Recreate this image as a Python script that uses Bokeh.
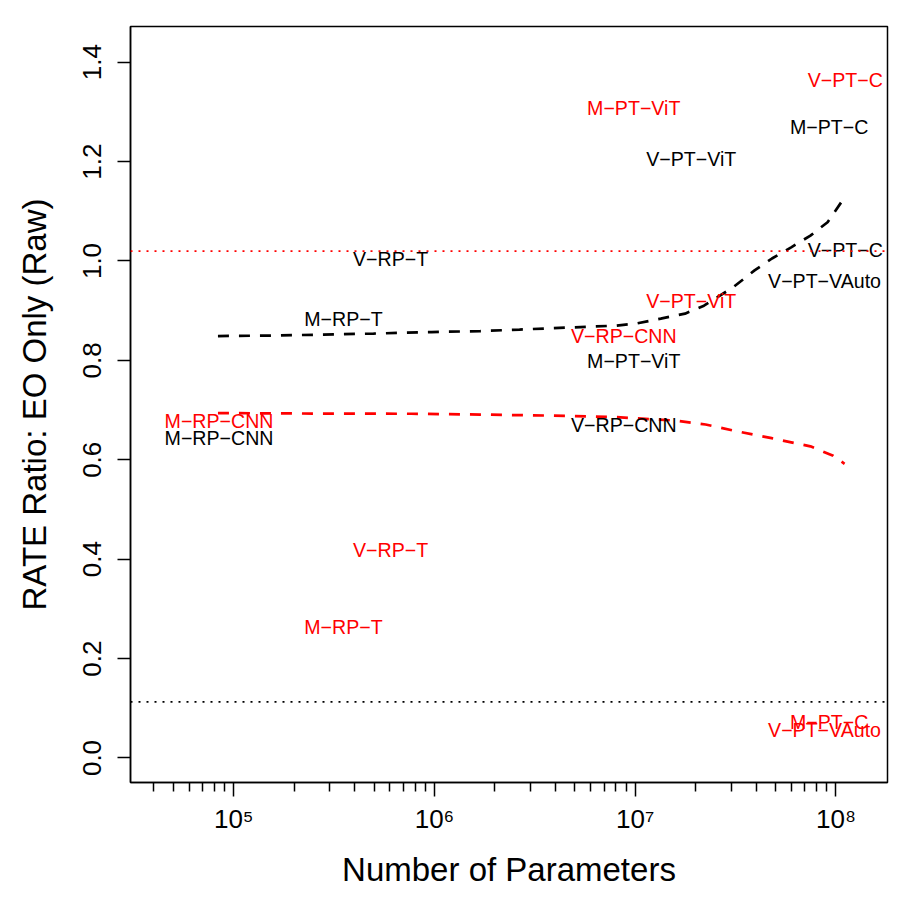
from bokeh.plotting import figure
from bokeh.models import Range1d, FixedTicker, Span, ColumnDataSource, PrintfTickFormatter
from bokeh.core.properties import value
from bokeh.embed import file_html
from bokeh.resources import INLINE

# ---------------- data ----------------
models = ["M-RP-CNN", "M-RP-T", "V-RP-T", "V-RP-CNN", "M-PT-ViT",
          "V-PT-ViT", "V-PT-VAuto", "M-PT-C", "V-PT-C"]
n_params = [8.44e4, 3.52e5, 6.04e5, 8.77e6, 9.83e6, 1.90e7, 8.77e7, 9.24e7, 1.113e8]
ratio_black = [0.643, 0.884, 1.003, 0.671, 0.798, 1.206, 0.959, 1.269, 1.023]
ratio_red = [0.679, 0.264, 0.4195, 0.850, 1.308, 0.9205, 0.0573, 0.072, 1.365]

ref_black = 0.113
ref_red = 1.02

fit_black_x = [8.34e4, 1.63e5, 4.97e5, 9.66e5, 1.69e6, 2.65e6, 4.60e6, 8.07e6,
               1.007e7, 1.34e7, 1.77e7, 2.20e7, 3.07e7, 3.93e7, 4.80e7, 6.01e7,
               7.46e7, 9.08e7, 1.07e8]
fit_black_y = [0.849, 0.850, 0.854, 0.857, 0.859, 0.862, 0.866, 0.870,
               0.874, 0.884, 0.894, 0.910, 0.947, 0.981, 1.005, 1.028,
               1.051, 1.078, 1.120]

fit_red_x = [8.34e4, 2.5e5, 7.67e5, 1.69e6, 3.66e6, 8.07e6, 1.57e7, 2.24e7,
             3.06e7, 4.78e7, 7.46e7, 9.62e7, 1.104e8]
fit_red_y = [0.694, 0.693, 0.6926, 0.691, 0.689, 0.6857, 0.679, 0.671,
             0.659, 0.6435, 0.627, 0.6087, 0.592]

x_decades = [1e5, 1e6, 1e7, 1e8]
x_tick_labels = ["10\u2075", "10\u2076", "10\u2077", "10\u2078"]
x_minor = [m * 10.0 ** k for k in (4, 5, 6, 7) for m in range(2, 10) if m * 10.0 ** k >= 4e4]
y_ticks = [0.0, 0.2, 0.4, 0.6, 0.8, 1.0, 1.2, 1.4]

# ---------------- figure ----------------
FONT = "Liberation Sans"
p = figure(width=913, height=913, x_axis_type="log",
           x_range=Range1d(30584, 1.806e8), y_range=Range1d(-0.0493, 1.4718),
           output_backend="svg", toolbar_location=None,
           min_border_left=130, min_border_right=26, min_border_top=26, min_border_bottom=131)
p.grid.visible = False
p.outline_line_color = "black"
p.outline_line_width = 1.5
p.background_fill_color = "white"
p.border_fill_color = "white"

# x axis
xa = p.xaxis[0]
xa.ticker = FixedTicker(ticks=x_decades, minor_ticks=x_minor)
xa.major_label_overrides = {int(t): s for t, s in zip(x_decades, x_tick_labels)}
xa.major_label_text_font = FONT
xa.major_label_text_font_size = "26px"
xa.major_label_text_color = "black"
xa.major_label_standoff = 7
xa.major_tick_out = 14
xa.major_tick_in = 0
xa.minor_tick_out = 9
xa.minor_tick_in = 0
xa.major_tick_line_width = 1.5
xa.minor_tick_line_width = 1.5
xa.axis_line_width = 1.5
xa.axis_label = "Number of Parameters"
xa.axis_label_text_font = FONT
xa.axis_label_text_font_size = "33px"
xa.axis_label_text_font_style = "normal"
xa.axis_label_text_color = "black"
xa.axis_label_standoff = 14

# y axis
ya = p.yaxis[0]
ya.ticker = FixedTicker(ticks=y_ticks)
ya.formatter = PrintfTickFormatter(format="%.1f")
ya.major_tick_out = 13
ya.major_tick_in = 0
ya.minor_tick_line_color = None
ya.major_tick_line_width = 1.5
ya.axis_line_width = 1.5
ya.major_label_orientation = "vertical"
ya.major_label_text_font = FONT
ya.major_label_text_font_size = "26px"
ya.major_label_text_color = "black"
ya.major_label_standoff = 16
ya.axis_label = "RATE Ratio: EO Only (Raw)"
ya.axis_label_text_font = FONT
ya.axis_label_text_font_size = "33px"
ya.axis_label_text_font_style = "normal"
ya.axis_label_text_color = "black"
ya.axis_label_standoff = 28

# reference lines
p.add_layout(Span(location=ref_red, dimension="width", line_color="red",
                  line_dash="2 6", line_width=1.8))
p.add_layout(Span(location=ref_black, dimension="width", line_color="black",
                  line_dash="2 6", line_width=1.8))

# fitted curves
p.line(fit_black_x, fit_black_y, line_color="black", line_width=2.7, line_dash="11 10")
p.line(fit_red_x, fit_red_y, line_color="red", line_width=2.7, line_dash="11 10")

# text labels
disp = [m.replace("-", "\u2212") for m in models]
src = ColumnDataSource(dict(x=n_params, yb=ratio_black, yr=ratio_red, t=disp))
p.text(x="x", y="yb", text="t", source=src, text_color="black", text_font=value(FONT),
       text_font_size="19.6px", text_align="center", text_baseline="middle")
p.text(x="x", y="yr", text="t", source=src, text_color="red", text_font=value(FONT),
       text_font_size="19.6px", text_align="center", text_baseline="middle")

open("out.html", "w").write(file_html(p, INLINE))
